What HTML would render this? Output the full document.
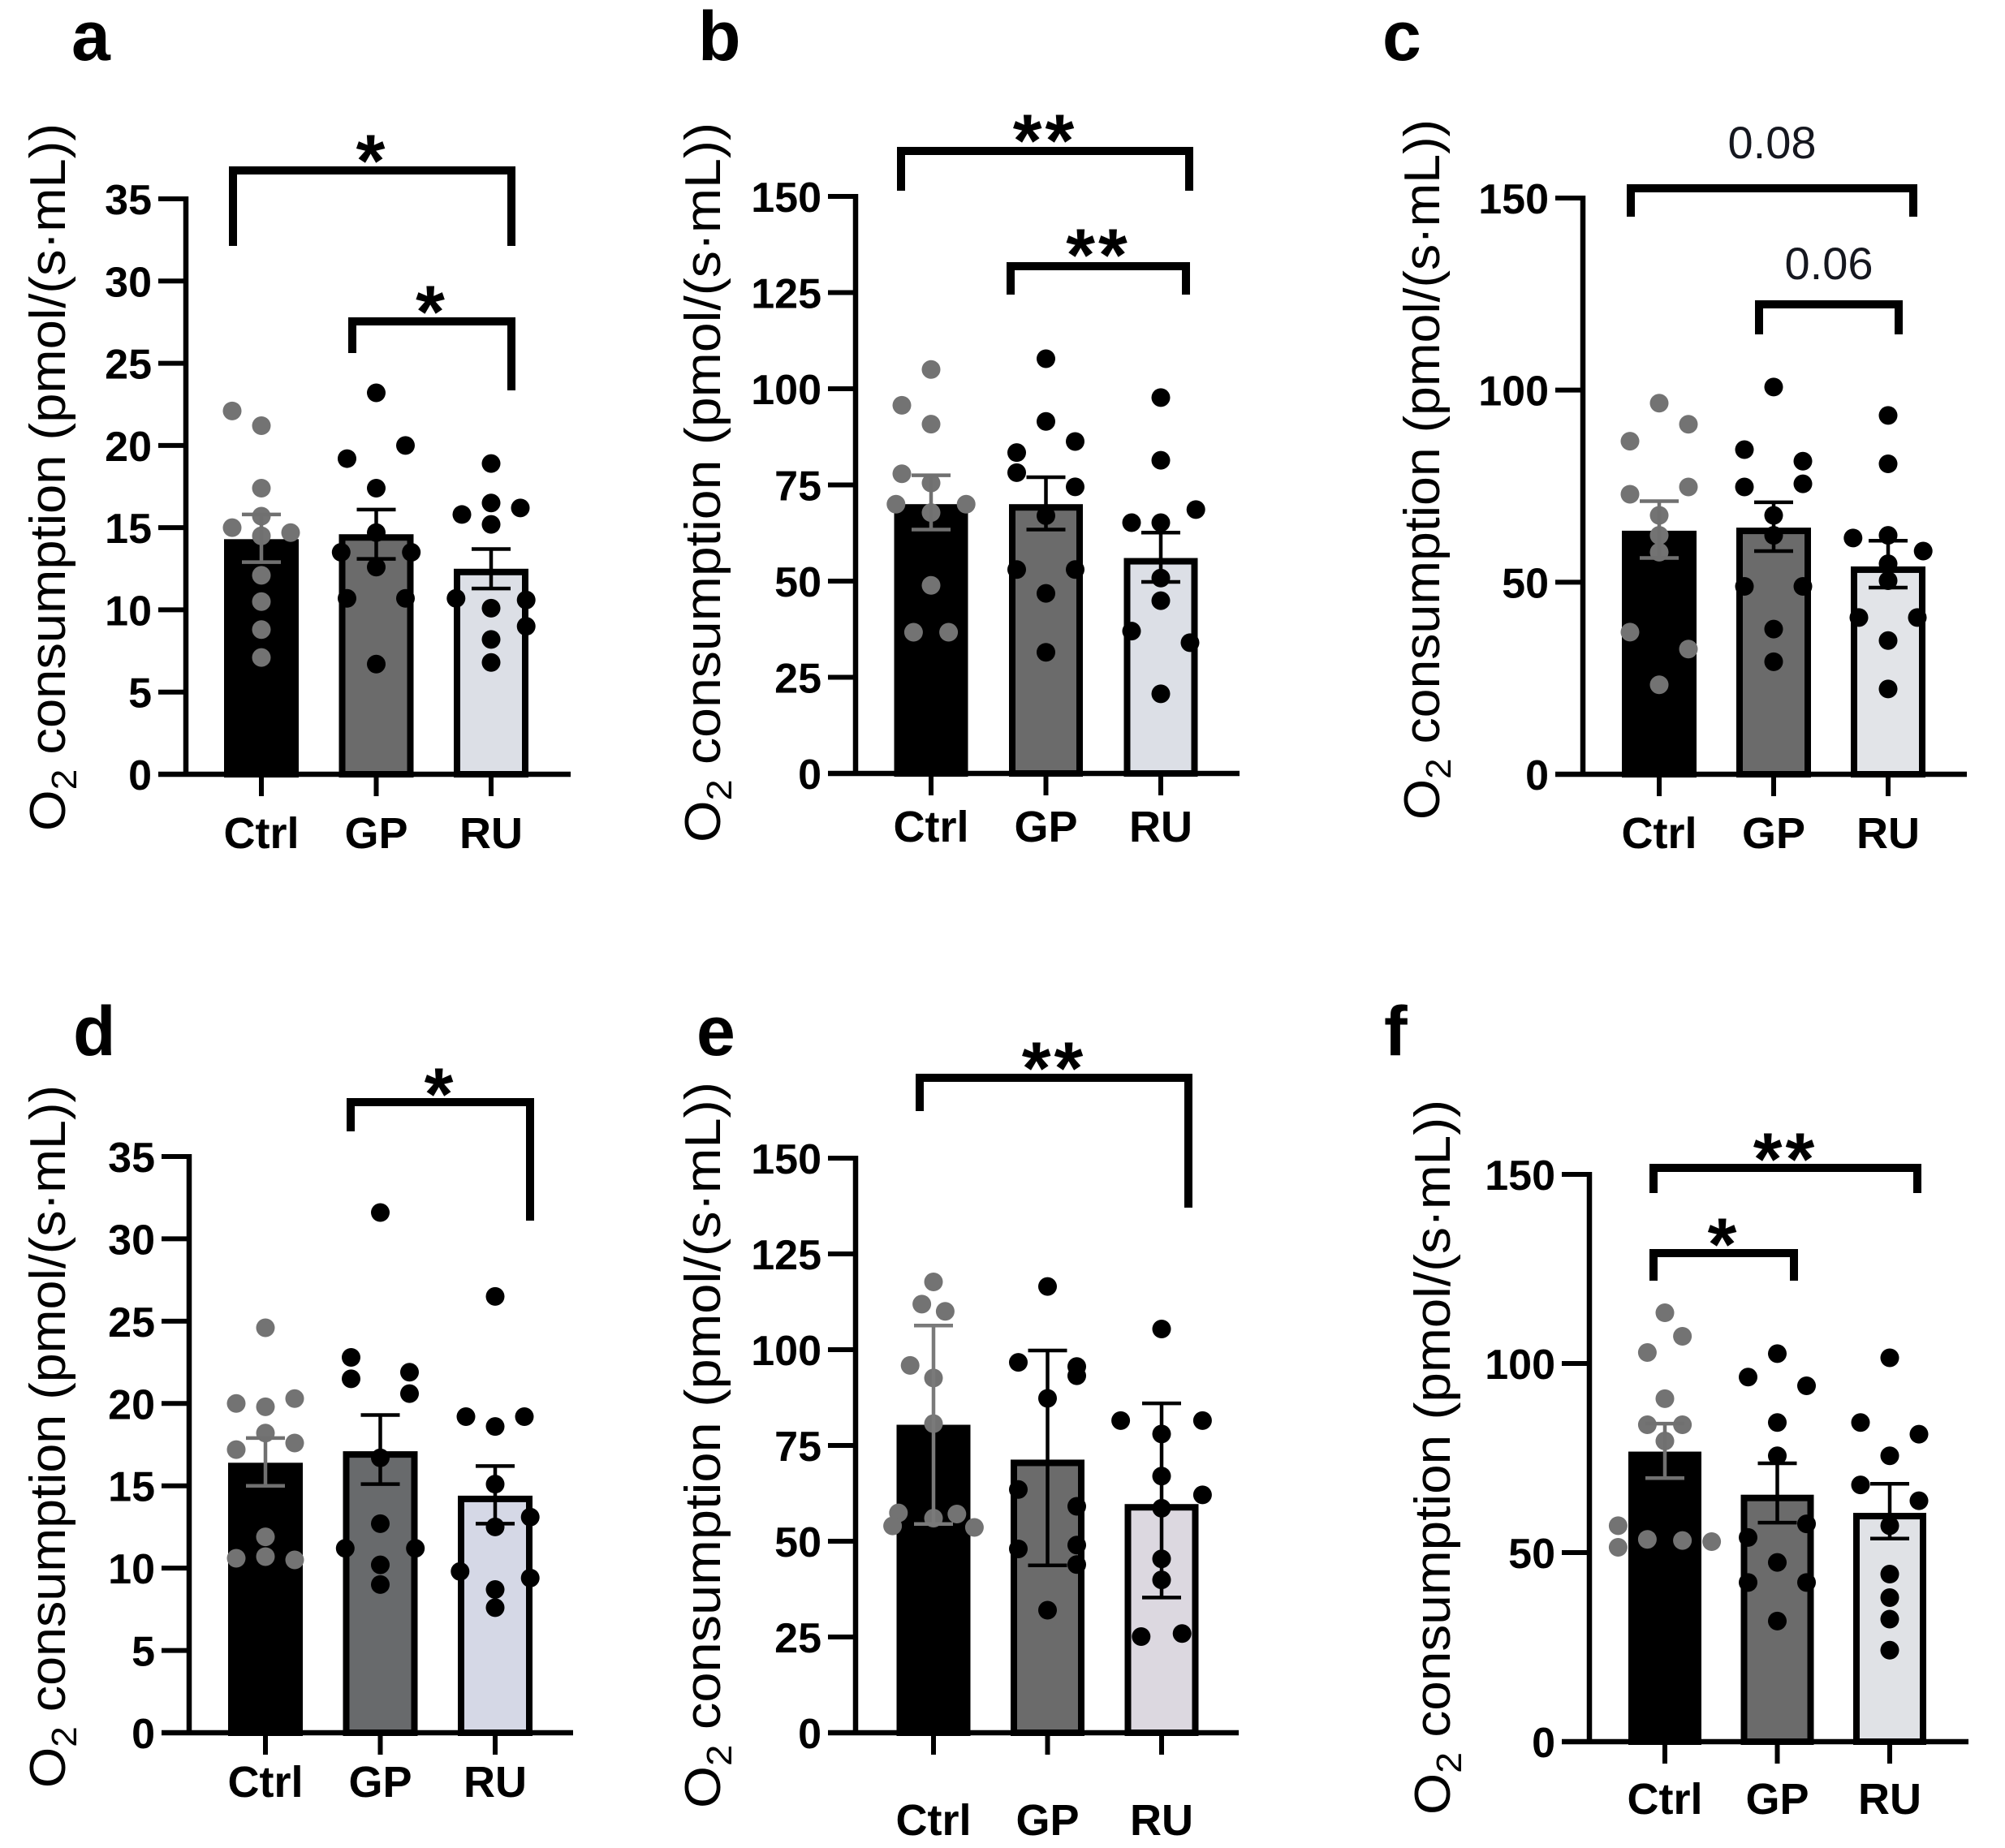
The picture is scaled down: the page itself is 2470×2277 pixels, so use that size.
<!DOCTYPE html>
<html><head><meta charset="utf-8"><style>
html,body{margin:0;padding:0;background:#fff}
svg{display:block}
text{font-family:"Liberation Sans",Arial,sans-serif}
</style></head><body>
<svg id="fig" width="2470" height="2277" viewBox="0 0 2470 2277" xmlns="http://www.w3.org/2000/svg"></svg>
<script>
const categories=["Ctrl","GP","RU"];
// panel a
const a_means=[14.3,14.6,12.5];
const a_lo=[12.9,13.1,11.3];
const a_hi=[15.8,16.1,13.7];
const a_pts=[[22.1,21.2,17.4,15.7,15.0,14.7,14.5,12.1,10.5,8.8,7.1],[23.2,19.2,20.0,17.4,14.7,13.5,13.5,12.6,10.7,10.7,6.7],[18.9,15.8,16.5,16.2,15.2,10.7,10.1,10.6,9.0,8.2,6.8]];
const a_side=[[-1,0,0,0,-1,1,0,0,0,0,0],[0,-1,1,0,0,-1.2,1.2,0,-1,1,0],[0,-1,0,1,0,-1.2,0,1.2,1.2,0,0]];
const a_ticks=[0,5,10,15,20,25,30,35];
// panel b
const b_means=[70,70,56];
const b_lo=[63.4,63.4,49.8];
const b_hi=[77.5,77,62.6];
const b_pts=[[105,95.7,90.8,77.9,75.5,70,70,67.8,48.9,36.7,36.7],[107.8,91.5,86.3,83.4,78.2,74.5,67,53,53,46.8,31.5],[97.7,81.4,68.6,65.2,65.2,50.8,44.9,37,34,20.7]];
const b_side=[[0,-1,0,-1,0,-1.2,1.2,0,0,-0.6,0.6],[0,0,1,-1,-1,1,0,-1,1,0,0],[0,0,1.2,-1,0,0,0,-1,1,0]];
const b_ticks=[0,25,50,75,100,125,150];
// panel c
const c_means=[63.4,64.2,54.1];
const c_lo=[56.3,58.1,48.6];
const c_hi=[71.1,70.8,60.8];
const c_pts=[[96.6,91.1,86.7,74.8,72.9,67.4,62.2,57.8,37,32.6,23.3],[100.8,84.5,81.5,74.8,75.6,67.4,62.2,48.9,48.9,37.8,29.3],[93.4,80.8,61.5,62.2,58.1,50.4,54.8,40.8,40.8,34.8,22.2]];
const c_side=[[0,1,-1,1,-1,0,0,0,-1,1,0],[0,-1,1,-1,1,0,0,-1,1,0,0],[0,0,-1.2,0,1.2,0,0,-1,1,0,0]];
const c_ticks=[0,50,100,150];
// panel d
const d_means=[16.4,17.1,14.4];
const d_lo=[15.0,15.1,12.7];
const d_hi=[17.9,19.3,16.2];
const d_pts=[[24.6,20.0,19.8,20.3,18.2,17.2,17.6,11.9,10.6,10.7,10.5],[31.6,22.8,21.5,21.9,20.6,16.7,12.7,11.2,11.2,10.2,9.0],[26.5,19.2,18.6,19.2,15.1,13.1,12.5,9.8,9.4,8.7,7.6]];
const d_side=[[0,-1,0,1,0,-1,1,0,-1,0,1],[0,-1,-1,1,1,0,0,-1.2,1.2,0,0],[0,-1,0,1,0,1.2,0,-1.2,1.2,0,0]];
const d_ticks=[0,5,10,15,20,25,30,35];
// panel e (SD)
const e_means=[80.4,71.3,59.7];
const e_lo=[54.5,43.7,35.3];
const e_hi=[106.3,99.8,86];
const e_pts=[[117.7,111.9,110,95.9,92.6,80.7,57.4,57.1,56,54,53.6],[116.5,96.7,95.6,93.2,87.3,63.5,59.1,48,49,43.9,32],[105.4,81.5,81.5,78,67,62.1,58.6,45.4,39.9,25.1,25.9]];
const e_side=[[0,-0.4,0.4,-0.8,0,0,-1.2,0.8,0,-1.4,1.4],[0,-1,1,1,0,-1,1,-1,1,1,0],[0,-1.4,1.4,0,0,1.4,0,0,0,-0.7,0.7]];
const e_ticks=[0,25,50,75,100,125,150];
// panel f
const f_means=[76.7,65.3,60.5];
const f_lo=[69.7,57.9,53.7];
const f_hi=[84.1,73.6,68.2];
const f_pts=[[113.4,107.2,102.9,90.7,83.8,83.8,79.5,57.1,53.5,53.2,52.9,51.4],[102.6,96.4,94.1,84.4,75.6,57.6,54,47.4,42.1,42.1,31.9],[101.5,84.4,81.3,75.6,67.9,63.7,57.1,44.3,38.1,32.4,24.2]];
const f_side=[[0,0.6,-0.6,0,-0.6,0.6,0,-1.6,-0.6,0.6,1.6,-1.6],[0,-1,1,0,0,1,-1,0,-1,1,0],[0,-1,1,0,-1,1,0,0,0,0,0]];
const f_ticks=[0,50,100,150];

const NS="http://www.w3.org/2000/svg";
const svg=document.getElementById('fig');
function mk(tag,attrs,parent){const e=document.createElementNS(NS,tag);for(const k in attrs)e.setAttribute(k,attrs[k]);(parent||svg).appendChild(e);return e;}

const panels=[
 {id:'a',means:a_means,lo:a_lo,hi:a_hi,pts:a_pts,side:a_side,ticks:a_ticks,max:35,ax:229,y0:954,yt:245,xEnd:703,c0:322,step:141.5,bw:92,labY:1045,tx:80,tTop:152,tBot:1024,lx:88,ly:74,fills:['#000','#6b6b6b','#dcdfe6'],ctrlErr:'#707070',
  brackets:[{x1:287,x2:630,y:210,dl:303,dr:303,t:'*',ty:190},{x1:434,x2:630,y:396,dl:435,dr:481,t:'*',ty:376}]},
 {id:'b',means:b_means,lo:b_lo,hi:b_hi,pts:b_pts,side:b_side,ticks:b_ticks,max:150,ax:1054,y0:953,yt:242,xEnd:1527,c0:1147,step:141.5,bw:91,labY:1037,tx:887,tTop:151,tBot:1038,lx:860,ly:74,fills:['#000','#6b6b6b','#dcdfe6'],ctrlErr:'#707070',
  brackets:[{x1:1110,x2:1465,y:186,dl:235,dr:235,t:'**',ty:165},{x1:1245,x2:1461,y:328,dl:363,dr:363,t:'**',ty:306}]},
 {id:'c',means:c_means,lo:c_lo,hi:c_hi,pts:c_pts,side:c_side,ticks:c_ticks,max:150,ax:1950,y0:954,yt:244,xEnd:2423,c0:2044,step:141,bw:92,labY:1045,tx:1773,tTop:147,tBot:1010,lx:1703,ly:74,fills:['#000','#6b6b6b','#e2e4e8'],ctrlErr:'#707070',
  brackets:[{x1:2009,x2:2357,y:232,dl:267,dr:267,t:'0.08',ty:195,reg:true},{x1:2167,x2:2339,y:375,dl:412,dr:412,t:'0.06',ty:344,reg:true}]},
 {id:'d',means:d_means,lo:d_lo,hi:d_hi,pts:d_pts,side:d_side,ticks:d_ticks,max:35,ax:233,y0:2135,yt:1425,xEnd:706,c0:327,step:141.5,bw:92,labY:2214,tx:80,tTop:1337,tBot:2203,lx:90,ly:1300,fills:['#000','#686a6c','#d5d8e6'],ctrlErr:'#707070',
  brackets:[{x1:432,x2:653,y:1358,dl:1394,dr:1504,t:'*',ty:1340}]},
 {id:'e',means:e_means,lo:e_lo,hi:e_hi,pts:e_pts,side:e_side,ticks:e_ticks,max:150,ax:1054,y0:2135,yt:1427,xEnd:1526,c0:1150,step:140.5,bw:91,labY:2261,tx:887,tTop:1333,tBot:2228,lx:858,ly:1300,fills:['#000','#6b6b6b','#dcd8e0'],ctrlErr:'#7a7a7a',
  brackets:[{x1:1133,x2:1464,y:1328,dl:1369,dr:1488,t:'**',ty:1308}]},
 {id:'f',means:f_means,lo:f_lo,hi:f_hi,pts:f_pts,side:f_side,ticks:f_ticks,max:150,ax:1958,y0:2146,yt:1447,xEnd:2425,c0:2051,step:138.5,bw:90,labY:2235,tx:1786,tTop:1355,tBot:2236,lx:1705,ly:1300,fills:['#000','#6b6b6b','#e0e2e6'],ctrlErr:'#707070',
  brackets:[{x1:2037,x2:2362,y:1439,dl:1470,dr:1470,t:'**',ty:1420},{x1:2037,x2:2210,y:1544,dl:1578,dr:1578,t:'*',ty:1525}]}
];

panels.forEach(p=>{
  const g=mk('g',{});
  
  
  const Y=v=>p.y0-(v/p.max)*(p.y0-p.yt);
  const X=i=>p.c0+i*p.step;
  const lt=mk('text',{x:p.lx,y:p.ly,'font-size':86,'font-weight':'bold',fill:'#000'},g);
  lt.textContent=p.id;
  
  
  const mid=(p.tTop+p.tBot)/2;
  const yt=mk('text',{x:0,y:0,transform:`translate(${p.tx},${mid}) rotate(-90)`,'text-anchor':'middle','font-size':62,fill:'#000',textLength:(p.tBot-p.tTop),lengthAdjust:'spacingAndGlyphs'},g);
  yt.innerHTML='O<tspan font-size="44" dy="14">2</tspan><tspan dy="-14"> consumption (pmol/(s·mL))</tspan>';
  
  
  p.means.forEach((m,i)=>{
    const sw=8;
    const r=mk('rect',{x:X(i)-p.bw/2+sw/2,y:Y(m)+sw/2,width:p.bw-sw,height:p.y0-Y(m)-sw/2,fill:p.fills[i],stroke:'#000','stroke-width':sw},g);
    
    
  });
  p.pts.forEach((arr,i)=>{
    arr.forEach((v,j)=>{
      const c=mk('circle',{cx:X(i)+p.side[i][j]*36,cy:Y(v),r:11.5,fill:i===0?'#737373':'#000'},g);
      
      
    });
  });
  p.means.forEach((m,i)=>{
    const col=i===0?p.ctrlErr:'#000';
    const eg=mk('g',{stroke:col,'stroke-width':4.5,fill:'none'},g);
    
    
    mk('line',{x1:X(i),x2:X(i),y1:Y(p.lo[i]),y2:Y(p.hi[i])},eg);
    mk('line',{x1:X(i)-24,x2:X(i)+24,y1:Y(p.lo[i]),y2:Y(p.lo[i])},eg);
    mk('line',{x1:X(i)-24,x2:X(i)+24,y1:Y(p.hi[i]),y2:Y(p.hi[i])},eg);
  });
  const ya=mk('line',{x1:p.ax,x2:p.ax,y1:p.yt-3,y2:p.y0+3,stroke:'#000','stroke-width':6.5},g);
  
  
  const xa=mk('line',{x1:p.ax-34,x2:p.xEnd,y1:p.y0,y2:p.y0,stroke:'#000','stroke-width':6.5},g);
  
  
  p.ticks.forEach(t=>{
    mk('line',{x1:p.ax-34,x2:p.ax,y1:Y(t),y2:Y(t),stroke:'#000','stroke-width':6},g);
    const tl=mk('text',{x:p.ax-42,y:Y(t)+19,'text-anchor':'end','font-size':52,'font-weight':'bold',fill:'#000'},g);
    tl.textContent=t;
    
    
  });
  categories.forEach((c,i)=>{
    mk('line',{x1:X(i),x2:X(i),y1:p.y0,y2:p.y0+27,stroke:'#000','stroke-width':6},g);
    const cl=mk('text',{x:X(i),y:p.labY,'text-anchor':'middle','font-size':54,'font-weight':'bold',fill:'#000'},g);
    cl.textContent=c;
    
    
  });
  p.brackets.forEach(b=>{
    const pth=mk('path',{d:`M${b.x1},${b.dl} V${b.y} H${b.x2} V${b.dr}`,stroke:'#000','stroke-width':10,fill:'none'},g);
    
    
    const st=mk('text',{x:(b.x1+b.x2)/2,y:b.reg?b.ty:b.ty+40,'text-anchor':'middle','font-size':b.reg?56:92,'font-weight':b.reg?'normal':'bold',fill:b.reg?'#15171f':'#000','letter-spacing':b.reg?0:4},g);
    st.textContent=b.t;
    
    
  });
});
</script>
</body></html>
